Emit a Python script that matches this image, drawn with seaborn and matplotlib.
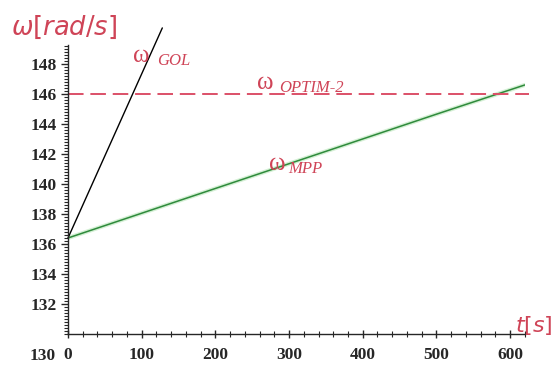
import matplotlib
matplotlib.use("Agg")
import matplotlib.pyplot as plt
import seaborn as sns
import pandas as pd
from matplotlib.ticker import MultipleLocator

# ---- data ----
mpp_t = [0, 100, 200, 300, 400, 500, 620]
mpp_w = [136.4, 138.05, 139.7, 141.35, 143.0, 144.65, 146.6]

gol_t = [0, 128]
gol_w = [136.4, 150.4]

optim_t = [0, 625]
optim_w = [146.0, 146.0]

x_ticks = [0, 100, 200, 300, 400, 500, 600]
y_ticks = [132, 134, 136, 138, 140, 142, 144, 146, 148]

RED = "#cf4457"
DASH_RED = "#dc5068"
GREEN = "#2f8a3c"

sns.set_style("ticks")
plt.rcParams["font.family"] = ["Liberation Serif", "DejaVu Serif"]
plt.rcParams["mathtext.fontset"] = "dejavusans"

fig = plt.figure(figsize=(5.56, 3.66), dpi=100)
ax = fig.add_axes([0.1223, 0.0874, 0.8217, 0.790])

df_mpp = pd.DataFrame({"t": mpp_t, "w": mpp_w})
df_gol = pd.DataFrame({"t": gol_t, "w": gol_w})
df_opt = pd.DataFrame({"t": optim_t, "w": optim_w})

sns.lineplot(data=df_mpp, x="t", y="w", ax=ax, color="#b8e6b8", lw=3.0, alpha=0.6)
sns.lineplot(data=df_mpp, x="t", y="w", ax=ax, color=GREEN, lw=1.1)
sns.lineplot(data=df_opt, x="t", y="w", ax=ax, color=DASH_RED, lw=1.4, clip_on=False)
ax.lines[-1].set_dashes([8, 3.5])
sns.lineplot(data=df_gol, x="t", y="w", ax=ax, color="black", lw=1.0, clip_on=False)

ax.set_xlim(0, 620)
ax.set_ylim(130, 149.27)
ax.set_xticks(x_ticks)
ax.set_yticks(y_ticks)
ax.xaxis.set_minor_locator(MultipleLocator(20))
ax.yaxis.set_minor_locator(MultipleLocator(0.2))
ax.tick_params(axis="x", which="major", direction="inout", length=6, width=1.0,
               labelsize=12.5, pad=6)
ax.tick_params(axis="x", which="minor", direction="inout", length=4, width=0.8,
               bottom=True)
ax.tick_params(axis="y", which="major", direction="out", length=5, width=1.0,
               labelsize=12.5, pad=3)
ax.tick_params(axis="y", which="minor", direction="out", length=3, width=0.8,
               left=True)
for lab in ax.get_xticklabels() + ax.get_yticklabels():
    lab.set_fontweight("bold")
ax.set_xlabel("")
ax.set_ylabel("")
sns.despine(ax=ax)
ax.spines["left"].set_linewidth(1.0)
ax.spines["bottom"].set_linewidth(1.0)

# the 130 label sits below the corner
ax.annotate("130", xy=(0, 130), xycoords="data", xytext=(-9, -16),
            textcoords="offset points", ha="right", va="center",
            fontsize=12.5, fontweight="bold")

# axis titles
fig.text(0.02, 0.925, r"$\omega[rad/s]$", color=RED, fontsize=18.5, ha="left", va="center")
fig.text(0.926, 0.11, r"$t[s]$", color=RED, fontsize=16, ha="left", va="center")

# curve labels
ax.text(88, 148.5, "ω", color=RED, fontsize=18, ha="left", va="center")
ax.text(121, 148.2, "GOL", color=RED, fontsize=12, style="italic", ha="left", va="center",
        bbox=dict(facecolor="white", edgecolor="none", pad=1.0))
ax.text(256, 146.75, "ω", color=RED, fontsize=18, ha="left", va="center")
ax.text(287, 146.4, "OPTIM-2", color=RED, fontsize=12, style="italic", ha="left", va="center")
ax.text(273, 141.35, "ω", color=RED, fontsize=18, ha="left", va="center")
ax.text(299, 141.0, "MPP", color=RED, fontsize=12, style="italic", ha="left", va="center")

fig.savefig("out.png", dpi=100)
